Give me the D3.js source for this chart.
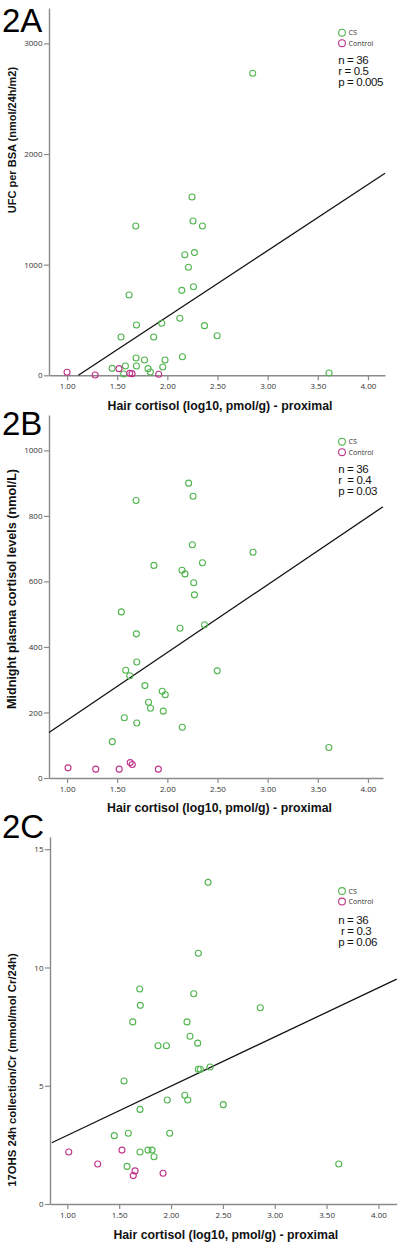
<!DOCTYPE html>
<html><head><meta charset="utf-8">
<script src="https://cdn.jsdelivr.net/npm/d3@7"></script>
<style>
html,body{margin:0;padding:0;background:#fff;}
svg{display:block;}
</style></head>
<body>
<script>
// ---------- DATA ----------
const xTickValues = [1.0, 1.5, 2.0, 2.5, 3.0, 3.5, 4.0];
const xLabel = "Hair cortisol (log10, pmol/g) - proximal";
const seriesNames = ["CS", "Control"];

// Panel 2A: UFC per BSA
const aTicks = [0, 1000, 2000, 3000];
const aCS = [[2.851,2730],[2.246,1612],[1.685,1350],[2.256,1395],[2.35,1350],[2.174,1090],[2.27,1109],[2.21,976],[2.26,801],[2.144,768],[1.618,726],[1.692,455],[1.944,470],[2.124,515],[2.37,449],[2.496,358],[1.538,346],[1.864,346],[2.15,168],[1.688,156],[1.772,138],[1.977,138],[1.449,63],[1.582,84],[1.692,84],[1.808,60],[1.954,75],[1.831,30],[1.565,12],[3.612,21]];
const aControl = [[1.0,27],[1.28,3],[1.518,60],[1.625,18],[1.648,15],[1.914,9]];
const aFit = [[1.113,0],[4.17,1826]];
const aStats = ["n = 36", "r = 0.5", "p = 0.005"];

// Panel 2B: Midnight plasma cortisol
const bTicks = [0, 200, 400, 600, 800, 1000];
const bCS = [[2.212,900],[2.256,860],[1.688,847],[2.249,712],[2.854,689],[1.866,649],[2.35,657],[2.146,634],[2.176,623],[2.263,596],[2.27,559],[1.541,507],[1.691,440],[2.126,457],[2.37,468],[1.695,354],[1.585,329],[2.497,327],[1.625,312],[1.776,282],[1.949,265],[1.979,254],[1.812,231],[1.832,213],[1.959,204],[1.571,184],[1.695,168],[2.149,155],[1.451,111],[3.61,93]];
const bControl = [[1.01,31],[1.286,27],[1.52,27],[1.63,47],[1.65,41],[1.91,27]];
const bFit = [[0.82,139],[4.15,828]];
const bStats = ["n = 36", "r  = 0.4", "p = 0.03"];

// Panel 2C: 17OHS 24h collection/Cr
const cTicks = [0, 5, 10, 15];
const cCS = [[2.357,13.6],[2.263,10.6],[1.698,9.09],[2.219,8.89],[1.704,8.40],[2.861,8.30],[1.631,7.70],[2.154,7.70],[2.183,7.09],[2.257,6.80],[1.875,6.69],[1.955,6.69],[2.263,5.70],[2.283,5.70],[2.376,5.79],[1.547,5.20],[2.132,4.60],[1.964,4.40],[2.161,4.40],[2.504,4.20],[1.701,4.00],[1.453,2.89],[1.588,2.99],[1.987,2.99],[1.778,2.28],[1.817,2.28],[1.701,2.20],[1.836,2.00],[1.576,1.59],[3.617,1.69]];
const cControl = [[1.014,2.20],[1.293,1.69],[1.527,2.28],[1.653,1.40],[1.636,1.20],[1.923,1.30]];
const cFit = [[0.85,2.59],[4.176,9.51]];
const cStats = ["n = 36", " r = 0.3", "p = 0.06"];

// ---------- LAYOUT ----------
const W = 400, H = 1244;
const GREEN = "#52b54f", MAGENTA = "#c0348a", AXIS = "#8a8a8a", TXT = "#333";

const panels = [
  {tag:"2A", tagY:32, ylab:"UFC per BSA (nmol/24h/m2)", ylabSize:11, ylabY:140, ticks:aTicks, fmt:d3.format("d"),
   cs:aCS, ctl:aControl, fit:aFit, stats:aStats,
   xr:[49,385], xd:[0.82,4.17], yr:[375.3,8], yd:[0,3320], xlabY:409.5, xlabX:220,
   legY:32.7, statY:64},
  {tag:"2B", tagY:435, ylab:"Midnight plasma cortisol levels (nmol/L)", ylabSize:12.6, ylabY:589, ticks:bTicks, fmt:d3.format("d"),
   cs:bCS, ctl:bControl, fit:bFit, stats:bStats,
   xr:[49,383], xd:[0.82,4.15], yr:[778,415], yd:[0,1108], xlabY:811.5, xlabX:219.5,
   legY:441.7, statY:473},
  {tag:"2C", tagY:837.5, ylab:"17OHS 24h collection/Cr (mmol/mol Cr/24h)", ylabSize:11.3, ylabY:1070, ticks:cTicks, fmt:d3.format("d"),
   cs:cCS, ctl:cControl, fit:cFit, stats:cStats,
   xr:[50,396.7], xd:[0.833,4.176], yr:[1204,836.7], yd:[0,15.53], xlabY:1238.5, xlabX:225.8,
   legY:891, statY:924}
];

const svg = d3.select("body").append("svg").attr("width", W).attr("height", H);

panels.forEach(p => {
  const g = svg.append("g");
  const x = d3.scaleLinear().domain(p.xd).range(p.xr);
  const y = d3.scaleLinear().domain(p.yd).range(p.yr);
  const x0 = p.xr[0], y0 = p.yr[0];

  // Y axis
  const ya = g.append("g").attr("transform", `translate(${x0},0)`)
    .call(d3.axisLeft(y).tickValues(p.ticks).tickFormat(p.fmt).tickSize(5).tickSizeOuter(0).tickPadding(1.5));
  // X axis
  const xa = g.append("g").attr("transform", `translate(0,${y0})`)
    .call(d3.axisBottom(x).tickValues(xTickValues).tickFormat(d3.format(".2f")).tickSize(5).tickSizeOuter(0).tickPadding(3.5));
  [ya, xa].forEach(a => {
    a.select(".domain").attr("stroke", AXIS).attr("stroke-width", 1.4);
    a.selectAll(".tick line").attr("stroke", AXIS).attr("stroke-width", 1.2);
    a.selectAll(".tick text").attr("fill", TXT).style("font-family", "'Open Sans', sans-serif").style("font-size", "8px");
  });

  // regression line
  g.append("line")
    .attr("x1", x(p.fit[0][0])).attr("y1", y(p.fit[0][1]))
    .attr("x2", x(p.fit[1][0])).attr("y2", y(p.fit[1][1]))
    .attr("stroke", "#111").attr("stroke-width", 1.3);

  // points
  g.append("g").selectAll("circle").data(p.cs).join("circle")
    .attr("cx", d => x(d[0])).attr("cy", d => y(d[1])).attr("r", 3)
    .attr("fill", "none").attr("stroke", GREEN).attr("stroke-width", 1.1);
  g.append("g").selectAll("circle").data(p.ctl).join("circle")
    .attr("cx", d => x(d[0])).attr("cy", d => y(d[1])).attr("r", 3)
    .attr("fill", "none").attr("stroke", MAGENTA).attr("stroke-width", 1.1);

  // panel tag
  g.append("text").attr("x", 2).attr("y", p.tagY).text(p.tag)
    .style("font-family", "'Liberation Sans', Arial, sans-serif").style("font-size", "33px").attr("fill", "#000");

  // axis labels
  g.append("text").attr("x", p.xlabX).attr("y", p.xlabY).attr("text-anchor", "middle").text(xLabel)
    .style("font-family", "'Liberation Sans', Arial, sans-serif").style("font-weight", "bold").style("font-size", "12.3px").attr("fill", "#111");
  g.append("text").attr("transform", `translate(16,${p.ylabY}) rotate(-90)`).attr("text-anchor", "middle").text(p.ylab)
    .style("font-family", "'Liberation Sans', Arial, sans-serif").style("font-weight", "bold").style("font-size", p.ylabSize + "px").attr("fill", "#111");

  // legend
  seriesNames.forEach((nm, i) => {
    const ly = p.legY + i * 10.5;
    g.append("circle").attr("cx", 342).attr("cy", ly).attr("r", 3.4)
      .attr("fill", "none").attr("stroke", i === 0 ? GREEN : MAGENTA).attr("stroke-width", 1.1);
    g.append("text").attr("x", 348.5).attr("y", ly + 2.5).text(nm)
      .style("font-family", "'Open Sans', sans-serif").style("font-size", "7.2px").attr("fill", TXT);
  });

  // stats
  p.stats.forEach((s, i) => {
    g.append("text").attr("x", 338.3).attr("y", p.statY + i * 11).text(s)
      .style("white-space", "pre")
      .style("font-family", "'Liberation Sans', Arial, sans-serif").style("font-size", "11.5px")
      .style("letter-spacing", "-0.4px").attr("fill", "#111");
  });
});
</script>
</body></html>
